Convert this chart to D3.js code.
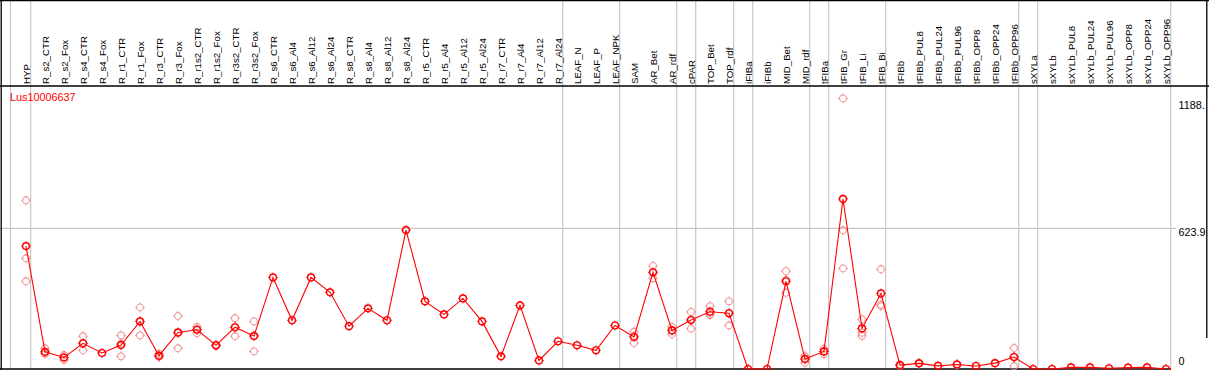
<!DOCTYPE html>
<html><head><meta charset="utf-8">
<script src="https://cdn.jsdelivr.net/npm/d3@7/dist/d3.min.js"></script>
<style>
html,body{margin:0;padding:0;background:#fff;}
svg{display:block;}
text{font-family:"Liberation Sans",Arial,sans-serif;}
</style></head>
<body>
<script>
const geneName = "Lus10006637";
const categories = ["HYP","R_s2_CTR","R_s2_Fox","R_s4_CTR","R_s4_Fox","R_r1_CTR","R_r1_Fox","R_r3_CTR","R_r3_Fox","R_r1s2_CTR","R_r1s2_Fox","R_r3s2_CTR","R_r3s2_Fox","R_s6_CTR","R_s6_Al4","R_s6_Al12","R_s6_Al24","R_s8_CTR","R_s8_Al4","R_s8_Al12","R_s8_Al24","R_r5_CTR","R_r5_Al4","R_r5_Al12","R_r5_Al24","R_r7_CTR","R_r7_Al4","R_r7_Al12","R_r7_Al24","LEAF_N","LEAF_P","LEAF_NPK","SAM","AR_Bet","AR_rdf","cPAR","TOP_Bet","TOP_rdf","iFIBa","iFIBb","MID_Bet","MID_rdf","tFIBa","tFIB_Gr","tFIB_Li","tFIB_Bi","tFIBb","tFIBb_PUL8","tFIBb_PUL24","tFIBb_PUL96","tFIBb_OPP8","tFIBb_OPP24","tFIBb_OPP96","sXYLa","sXYLb","sXYLb_PUL8","sXYLb_PUL24","sXYLb_PUL96","sXYLb_OPP8","sXYLb_OPP24","sXYLb_OPP96"];
const means = [545,76,51,114,71,106,211,59,162,174,105,185,146,406,216,406,340,190,269,216,616,300,242,313,211,56,282,38,123,105,83,193,142,429,171,217,254,247,0,0,389,44,78,754,180,335,17,25,14,20,13,26,53,0,0,7,7,3,6,7,0];
const replicates = [[748,491,389],[92,69,68],[62,51,40],[145,83,114],[],[149,56,113],[273,149,211],[68,54,55],[235,92,159],[187,159,176],[101,108],[225,145,185],[211,78,149],[],[],[],[],[],[],[],[],[],[],[],[],[],[],[],[],[],[],[],[165,115,146],[457,402,428],[187,155,172],[253,179,219],[279,239,244],[300,193,248],[],[],[434,338,395],[57,28,47],[90,66,78],[1200,615,446],[220,161,147],[442,279,285],[19,14],[27,23],[],[22,18],[],[],[93,13,53],[],[],[],[],[],[],[],[]];
const groupEnds = ["HYP","R_r7_Al24","LEAF_NPK","AR_rdf","cPAR","TOP_rdf","iFIBa","MID_rdf","tFIBa","tFIB_Bi","tFIBb_OPP96","sXYLa","sXYLb_OPP96"];
const yTickValues = [1188.4, 623.9, 0];
const yTickLabels = ["1188.", "623.9", "0"];

const W = 1209, H = 370;
const svg = d3.select("body").append("svg").attr("width", W).attr("height", H);

const x = d3.scalePoint().domain(categories).range([26, 1166]);
const y = d3.scaleLinear().domain([0, 1188.4]).range([369, 101]);
const step = x.step();

// vertical group separators
const sepX = [x(categories[0]) - 15.5].concat(groupEnds.map(c => x(c) + 4.7));
svg.append("g").selectAll("line").data(sepX).join("line")
  .attr("x1", d => d).attr("x2", d => d).attr("y1", 0).attr("y2", 369)
  .attr("stroke", "#c8c8c8").attr("stroke-width", 1.2);

// horizontal gridline
svg.append("line").attr("x1", 0).attr("x2", 1176)
  .attr("y1", y(623.9)).attr("y2", y(623.9))
  .attr("stroke", "#c8c8c8").attr("stroke-width", 1.2);

// frame lines
svg.append("line").attr("x1", 0).attr("x2", W).attr("y1", 0.5).attr("y2", 0.5).attr("stroke", "#000").attr("stroke-width", 1.5);
svg.append("line").attr("x1", 0).attr("x2", W).attr("y1", 86).attr("y2", 86).attr("stroke", "#000").attr("stroke-width", 1.3);
svg.append("line").attr("x1", 1.2).attr("x2", 1.2).attr("y1", 0).attr("y2", H).attr("stroke", "#000").attr("stroke-width", 1.3);
svg.append("line").attr("x1", 0).attr("x2", 1171).attr("y1", 369).attr("y2", 369).attr("stroke", "#000").attr("stroke-width", 1.5);
svg.append("line").attr("x1", 1206.8).attr("x2", 1206.8).attr("y1", 0).attr("y2", 338).attr("stroke", "#000").attr("stroke-width", 1.3);

// column labels
svg.append("g").selectAll("text").data(categories).join("text")
  .attr("transform", d => `translate(${x(d) + 3.8},84) rotate(-90)`)
  .attr("font-size", "9.7px").attr("fill", "#000")
  .text(d => d);

// y tick labels
svg.append("g").selectAll("text").data(yTickValues).join("text")
  .attr("x", 1178.5)
  .attr("y", (d, i) => i === 2 ? 365 : y(d) + 8)
  .attr("font-size", "10.8px").attr("fill", "#000")
  .text((d, i) => yTickLabels[i]);

// title
svg.append("text").attr("x", 10).attr("y", 101).attr("font-size", "10.8px").attr("fill", "#ff0000").text(geneName);

function marker(g, color, sw) {
  g.append("circle").attr("r", 3.4).attr("fill", "none").attr("stroke", color).attr("stroke-width", sw);
  [[0,-1],[0,1],[-1,0],[1,0]].forEach(([dx,dy]) => {
    g.append("line").attr("x1", dx*3.4).attr("y1", dy*3.4).attr("x2", dx*4.9).attr("y2", dy*4.9)
      .attr("stroke", color).attr("stroke-width", 1);
  });
}

// replicates
const repPts = [];
replicates.forEach((arr, i) => arr.forEach(v => repPts.push({c: categories[i], v})));
svg.append("g").selectAll("g").data(repPts).join("g")
  .attr("transform", d => `translate(${x(d.c)},${y(d.v)})`)
  .each(function(){ marker(d3.select(this), "#f09494", 1.1); });

// mean line
const line = d3.line().x((d, i) => x(categories[i])).y(d => y(d));
svg.append("path").datum(means).attr("d", line)
  .attr("fill", "none").attr("stroke", "#ff0000").attr("stroke-width", 1.1);

// mean markers
svg.append("g").selectAll("g").data(means).join("g")
  .attr("transform", (d, i) => `translate(${x(categories[i])},${y(d)})`)
  .each(function(){ marker(d3.select(this), "#ff0000", 1.4); });
</script>
</body></html>
